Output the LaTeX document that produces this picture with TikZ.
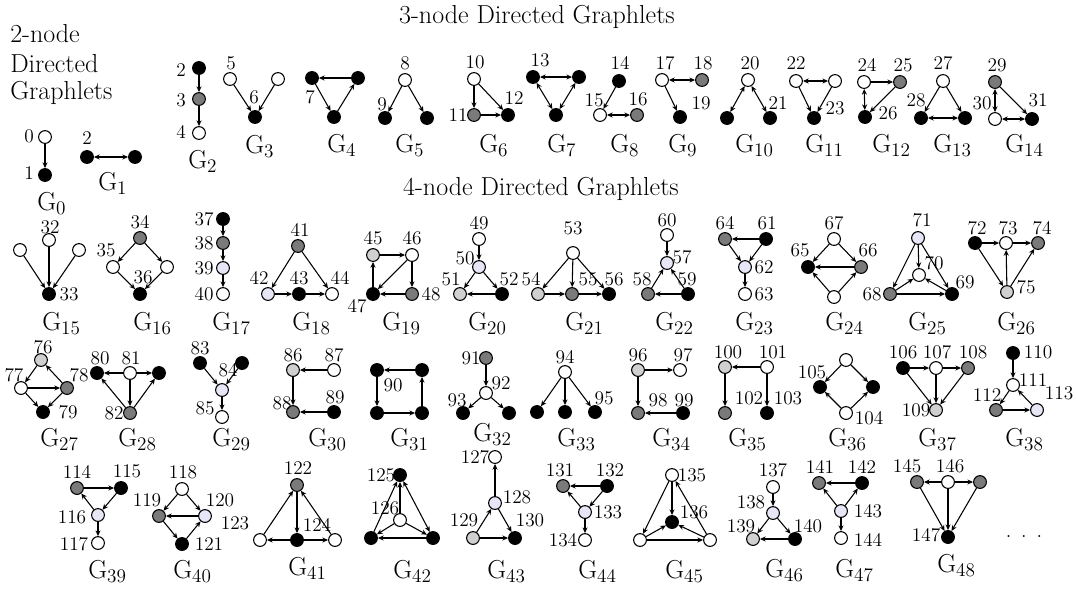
\documentclass[tikz,border=0pt]{standalone}
\usetikzlibrary{arrows.meta}
\definecolor{dgray}{HTML}{7A7A7A}
\definecolor{lgray}{HTML}{D0D0D0}
\definecolor{lav}{HTML}{E6E6F6}
\tikzset{
  vtx/.style={circle,draw=black,line width=0.8pt,minimum size=9.6pt,inner sep=0pt},
  wn/.style={vtx,fill=white},
  bn/.style={vtx,fill=black},
  dn/.style={vtx,fill=dgray},
  ln/.style={vtx,fill=lgray},
  pn/.style={vtx,fill=lav},
  ar/.style={-{Stealth[length=4.3pt,width=3.8pt]},line width=0.8pt},
  bi/.style={{Stealth[length=4.3pt,width=3.8pt]}-{Stealth[length=4.3pt,width=3.8pt]},line width=0.8pt},
  lab/.style={font=\fontsize{14.5}{14.5}\selectfont,inner sep=0pt},
  gl/.style={font=\fontsize{19.5}{19.5}\selectfont,inner sep=0pt,anchor=base west},
  ttl/.style={font=\fontsize{19.5}{19.5}\selectfont,inner sep=0pt,anchor=base}
}
\newcommand{\gname}[1]{G$_{#1}$}
\begin{document}
\begin{tikzpicture}[x=0.75pt,y=-0.75pt]
\useasboundingbox (0,0) rectangle (1077,590);
% titles
\node[ttl] (t3) at (537,23) {3-node Directed Graphlets};
\node[ttl] (t4) at (541,195) {4-node Directed Graphlets};
\node[ttl,anchor=base west] (t2a) at (10,42) {2-node};
\node[ttl,anchor=base west] (t2b) at (10,72) {Directed};
\node[ttl,anchor=base west] (t2c) at (10,99) {Graphlets};
% G0
\node[wn] (g0a) at (45,137) {};
\node[bn] (g0b) at (45,175) {};
\node[lab] (l0) at (29,136) {0};
\node[lab] (l1) at (29,173) {1};
\draw[ar] (g0a) -- (g0b);
\node[gl] (G0) at (37,210) {\gname{0}};
% G1
\node[bn] (g1a) at (87,157) {};
\node[bn] (g1b) at (135,157) {};
\node[lab] (l2a) at (87,138) {2};
\draw[bi] (g1a) -- (g1b);
\node[gl] (G1) at (98,190) {\gname{1}};
% G2
\node[bn] (g2a) at (199,68) {};
\node[dn] (g2b) at (199,99) {};
\node[wn] (g2c) at (199,133) {};
\node[lab] (l2) at (181,70) {2};
\node[lab] (l3) at (181,100) {3};
\node[lab] (l4) at (181,132) {4};
\draw[ar] (g2a) -- (g2b);
\draw[ar] (g2b) -- (g2c);
\node[gl] (G2) at (188,168) {\gname{2}};
% G3
\node[wn] (g3a) at (230,79) {};
\node[wn] (g3b) at (278,79) {};
\node[bn] (g3c) at (255,117) {};
\node[lab] (l5) at (231,63) {5};
\node[lab] (l6) at (254,97) {6};
\draw[ar] (g3a) -- (g3c);
\draw[ar] (g3b) -- (g3c);
\node[gl] (G3) at (245,153) {\gname{3}};
% G4
\node[bn] (g4a) at (312,78) {};
\node[bn] (g4b) at (358,78) {};
\node[bn] (g4c) at (334,117) {};
\node[lab] (l7) at (310,97) {7};
\draw[ar] (g4b) -- (g4a);
\draw[ar] (g4a) -- (g4c);
\draw[ar] (g4c) -- (g4b);
\node[gl] (G4) at (327,152) {\gname{4}};
% G5
\node[wn] (g5a) at (405,80) {};
\node[bn] (g5b) at (385,118) {};
\node[bn] (g5c) at (427,118) {};
\node[lab] (l8) at (405,63) {8};
\node[lab] (l9) at (382,104) {9};
\draw[ar] (g5a) -- (g5b);
\draw[ar] (g5a) -- (g5c);
\node[gl] (G5) at (395,152) {\gname{5}};
% G6
\node[wn] (g6a) at (474,79) {};
\node[dn] (g6b) at (474,115) {};
\node[bn] (g6c) at (508,115) {};
\node[lab] (l10) at (475,62) {10};
\node[lab] (l11) at (458,115) {11};
\node[lab] (l12) at (514,98) {12};
\draw[ar] (g6a) -- (g6b);
\draw[ar] (g6a) -- (g6c);
\draw[ar] (g6b) -- (g6c);
\node[gl] (G6) at (479,152) {\gname{6}};
% G7
\node[bn] (g7a) at (533,77) {};
\node[bn] (g7b) at (579,77) {};
\node[bn] (g7c) at (556,115) {};
\node[lab] (l13) at (540,60) {13};
\draw[bi] (g7a) -- (g7b);
\draw[bi] (g7a) -- (g7c);
\draw[bi] (g7b) -- (g7c);
\node[gl] (G7) at (547,152) {\gname{7}};
% G8
\node[bn] (g8a) at (619,81) {};
\node[wn] (g8b) at (600,115) {};
\node[dn] (g8c) at (637,115) {};
\node[lab] (l14) at (620,63) {14};
\node[lab] (l15) at (594,100) {15};
\node[lab] (l16) at (638,99) {16};
\draw[ar] (g8a) -- (g8b);
\draw[bi] (g8b) -- (g8c);
\node[gl] (G8) at (610,152) {\gname{8}};
% G9
\node[wn] (g9a) at (662,80) {};
\node[dn] (g9b) at (702,80) {};
\node[bn] (g9c) at (680,117) {};
\node[lab] (l17) at (665,63) {17};
\node[lab] (l18) at (703,63) {18};
\node[lab] (l19) at (701,103) {19};
\draw[bi] (g9a) -- (g9b);
\draw[ar] (g9a) -- (g9c);
\node[gl] (G9) at (668,152) {\gname{9}};
% G10
\node[wn] (g10a) at (748,80) {};
\node[bn] (g10b) at (727,118) {};
\node[bn] (g10c) at (770,118) {};
\node[lab] (l20) at (750,63) {20};
\node[lab] (l21) at (778,103) {21};
\draw[bi] (g10a) -- (g10b);
\draw[bi] (g10a) -- (g10c);
\node[gl] (G10) at (735,152) {\gname{10}};
% G11
\node[wn] (g11a) at (796,81) {};
\node[wn] (g11b) at (835,81) {};
\node[bn] (g11c) at (814,118) {};
\node[lab] (l22) at (796,63) {22};
\node[lab] (l23) at (835,108) {23};
\draw[bi] (g11a) -- (g11b);
\draw[ar] (g11a) -- (g11c);
\draw[ar] (g11b) -- (g11c);
\node[gl] (G11) at (805,152) {\gname{11}};
% G12
\node[wn] (g12a) at (864,82) {};
\node[dn] (g12b) at (900,82) {};
\node[bn] (g12c) at (865,117) {};
\node[lab] (l24) at (867,65) {24};
\node[lab] (l25) at (903,65) {25};
\node[lab] (l26) at (888,113) {26};
\draw[ar] (g12a) -- (g12b);
\draw[bi] (g12a) -- (g12c);
\draw[ar] (g12b) -- (g12c);
\node[gl] (G12) at (872,152) {\gname{12}};
% G13
\node[wn] (g13a) at (943,81) {};
\node[bn] (g13b) at (921,118) {};
\node[bn] (g13c) at (965,118) {};
\node[lab] (l27) at (943,63) {27};
\node[lab] (l28) at (916,100) {28};
\draw[ar] (g13a) -- (g13b);
\draw[ar] (g13a) -- (g13c);
\draw[bi] (g13b) -- (g13c);
\node[gl] (G13) at (933,152) {\gname{13}};
% G14
\node[dn] (g14a) at (995,82) {};
\node[wn] (g14b) at (995,119) {};
\node[bn] (g14c) at (1032,119) {};
\node[lab] (l29) at (997,65) {29};
\node[lab] (l30) at (982,103) {30};
\node[lab] (l31) at (1038,100) {31};
\draw[bi] (g14a) -- (g14b);
\draw[ar] (g14a) -- (g14c);
\draw[bi] (g14b) -- (g14c);
\node[gl] (G14) at (1005,152) {\gname{14}};
% G15
\node[wn] (g15a) at (20,250) {};
\node[wn] (g15b) at (49,240) {};
\node[wn] (g15c) at (79,250) {};
\node[bn] (g15d) at (49,294) {};
\node[lab] (l32) at (50,227) {32};
\node[lab] (l33) at (69,294) {33};
\draw[ar] (g15a) -- (g15d);
\draw[ar] (g15b) -- (g15d);
\draw[ar] (g15c) -- (g15d);
\node[gl] (G15) at (42,330) {\gname{15}};
% G16
\node[dn] (g16a) at (140,238) {};
\node[wn] (g16b) at (113,267) {};
\node[wn] (g16c) at (167,267) {};
\node[bn] (g16d) at (140,294) {};
\node[lab] (l34) at (140,222) {34};
\node[lab] (l35) at (106,250) {35};
\node[lab] (l36) at (143,277) {36};
\draw[ar] (g16a) -- (g16b);
\draw[ar] (g16a) -- (g16c);
\draw[ar] (g16b) -- (g16d);
\draw[ar] (g16c) -- (g16d);
\node[gl] (G16) at (133,330) {\gname{16}};
% G17
\node[bn] (g17a) at (223,219) {};
\node[dn] (g17b) at (223,243) {};
\node[pn] (g17c) at (223,268) {};
\node[wn] (g17d) at (223,294) {};
\node[lab] (l37) at (204,219) {37};
\node[lab] (l38) at (204,243) {38};
\node[lab] (l39) at (204,268) {39};
\node[lab] (l40) at (204,294) {40};
\draw[ar] (g17a) -- (g17b);
\draw[ar] (g17b) -- (g17c);
\draw[ar] (g17c) -- (g17d);
\node[gl] (G17) at (212,330) {\gname{17}};
% G18
\node[dn] (g18a) at (298,246) {};
\node[pn] (g18b) at (268,294) {};
\node[bn] (g18c) at (299,294) {};
\node[wn] (g18d) at (332,294) {};
\node[lab] (l41) at (300,230) {41};
\node[lab] (l42) at (259,278) {42};
\node[lab] (l43) at (299,278) {43};
\node[lab] (l44) at (340,278) {44};
\draw[ar] (g18a) -- (g18b);
\draw[ar] (g18a) -- (g18d);
\draw[ar] (g18b) -- (g18c);
\draw[ar] (g18c) -- (g18d);
\node[gl] (G18) at (292,330) {\gname{18}};
% G19
\node[ln] (g19a) at (373,255) {};
\node[wn] (g19b) at (412,255) {};
\node[bn] (g19c) at (373,294) {};
\node[dn] (g19d) at (412,294) {};
\node[lab] (l45) at (373,238) {45};
\node[lab] (l46) at (412,238) {46};
\node[lab] (l47) at (357,306) {47};
\node[lab] (l48) at (431,294) {48};
\draw[ar] (g19c) -- (g19a);
\draw[ar] (g19a) -- (g19b);
\draw[ar] (g19b) -- (g19c);
\draw[ar] (g19b) -- (g19d);
\draw[ar] (g19d) -- (g19c);
\node[gl] (G19) at (382,330) {\gname{19}};
% G20
\node[wn] (g20a) at (479,239) {};
\node[pn] (g20b) at (479,267) {};
\node[ln] (g20c) at (460,294) {};
\node[bn] (g20d) at (502,294) {};
\node[lab] (l49) at (479,223) {49};
\node[lab] (l50) at (465,258) {50};
\node[lab] (l51) at (451,279) {51};
\node[lab] (l52) at (509,279) {52};
\draw[ar] (g20a) -- (g20b);
\draw[ar] (g20b) -- (g20c);
\draw[ar] (g20b) -- (g20d);
\draw[ar] (g20d) -- (g20c);
\node[gl] (G20) at (468,330) {\gname{20}};
% G21
\node[wn] (g21a) at (573,253) {};
\node[ln] (g21b) at (538,294) {};
\node[dn] (g21c) at (572,294) {};
\node[bn] (g21d) at (609,294) {};
\node[lab] (l53) at (573,228) {53};
\node[lab] (l54) at (531,279) {54};
\node[lab] (l55) at (588,279) {55};
\node[lab] (l56) at (614,279) {56};
\draw[ar] (g21a) -- (g21b);
\draw[ar] (g21a) -- (g21c);
\draw[ar] (g21a) -- (g21d);
\draw[ar] (g21b) -- (g21c);
\draw[ar] (g21c) -- (g21d);
\node[gl] (G21) at (565,330) {\gname{21}};
% G22
\node[wn] (g22a) at (667,235) {};
\node[pn] (g22b) at (667,263) {};
\node[dn] (g22c) at (648,294) {};
\node[bn] (g22d) at (688,294) {};
\node[lab] (l60) at (667,220) {60};
\node[lab] (l57) at (682,257) {57};
\node[lab] (l58) at (642,279) {58};
\node[lab] (l59) at (687,279) {59};
\draw[ar] (g22a) -- (g22b);
\draw[ar] (g22c) -- (g22b);
\draw[ar] (g22d) -- (g22b);
\draw[ar] (g22d) -- (g22c);
\node[gl] (G22) at (655,330) {\gname{22}};
% G23
\node[dn] (g23a) at (725,239) {};
\node[bn] (g23b) at (766,239) {};
\node[pn] (g23c) at (745,267) {};
\node[wn] (g23d) at (745,294) {};
\node[lab] (l64) at (725,223) {64};
\node[lab] (l61) at (767,223) {61};
\node[lab] (l62) at (764,267) {62};
\node[lab] (l63) at (764,294) {63};
\draw[ar] (g23b) -- (g23a);
\draw[ar] (g23a) -- (g23c);
\draw[ar] (g23b) -- (g23c);
\draw[ar] (g23c) -- (g23d);
\node[gl] (G23) at (735,330) {\gname{23}};
% G24
\node[wn] (g24a) at (834,239) {};
\node[bn] (g24b) at (808,267) {};
\node[dn] (g24c) at (861,267) {};
\node[wn] (g24d) at (834,297) {};
\node[lab] (l67) at (834,223) {67};
\node[lab] (l65) at (800,250) {65};
\node[lab] (l66) at (868,250) {66};
\draw[ar] (g24a) -- (g24b);
\draw[ar] (g24a) -- (g24c);
\draw[ar] (g24c) -- (g24b);
\draw[ar] (g24d) -- (g24b);
\draw[ar] (g24d) -- (g24c);
\node[gl] (G24) at (825,330) {\gname{24}};
% G25
\node[pn] (g25a) at (918,238) {};
\node[wn] (g25b) at (919,275) {};
\node[dn] (g25c) at (890,294) {};
\node[bn] (g25d) at (952,294) {};
\node[lab] (l71) at (922,220) {71};
\node[lab] (l70) at (934,263) {70};
\node[lab] (l69) at (965,282) {69};
\node[lab] (l68) at (872,294) {68};
\draw[ar] (g25a) -- (g25b);
\draw[ar] (g25a) -- (g25c);
\draw[ar] (g25a) -- (g25d);
\draw[ar] (g25c) -- (g25b);
\draw[ar] (g25d) -- (g25b);
\draw[ar] (g25c) -- (g25d);
\node[gl] (G25) at (908,330) {\gname{25}};
% G26
\node[bn] (g26a) at (975,243) {};
\node[wn] (g26b) at (1006,243) {};
\node[dn] (g26c) at (1038,243) {};
\node[ln] (g26d) at (1007,292) {};
\node[lab] (l72) at (977,228) {72};
\node[lab] (l73) at (1008,228) {73};
\node[lab] (l74) at (1042,228) {74};
\node[lab] (l75) at (1026,287) {75};
\draw[ar] (g26a) -- (g26b);
\draw[ar] (g26b) -- (g26c);
\draw[ar] (g26a) -- (g26d);
\draw[ar] (g26d) -- (g26b);
\draw[ar] (g26d) -- (g26c);
\node[gl] (G26) at (997,330) {\gname{26}};
% G27
\node[ln] (g27a) at (41,360) {};
\node[wn] (g27b) at (21,388) {};
\node[dn] (g27c) at (67,388) {};
\node[bn] (g27d) at (43,412) {};
\node[lab] (l76) at (43,347) {76};
\node[lab] (l77) at (14,375) {77};
\node[lab] (l78) at (79,375) {78};
\node[lab] (l79) at (68,412) {79};
\draw[ar] (g27a) -- (g27b);
\draw[ar] (g27c) -- (g27a);
\draw[ar] (g27b) -- (g27c);
\draw[ar] (g27b) -- (g27d);
\draw[ar] (g27c) -- (g27d);
\node[gl] (G27) at (40,446) {\gname{27}};
% G28
\node[bn] (g28a) at (97,373) {};
\node[wn] (g28b) at (130,373) {};
\node[bn] (g28c) at (159,373) {};
\node[dn] (g28d) at (130,413) {};
\node[lab] (l80) at (100,358) {80};
\node[lab] (l81) at (131,358) {81};
\node[lab] (l82) at (114,413) {82};
\draw[ar] (g28b) -- (g28a);
\draw[ar] (g28b) -- (g28c);
\draw[ar] (g28b) -- (g28d);
\draw[ar] (g28d) -- (g28a);
\draw[ar] (g28d) -- (g28c);
\node[gl] (G28) at (118,446) {\gname{28}};
% G29
\node[bn] (g29a) at (200,363) {};
\node[bn] (g29b) at (242,363) {};
\node[pn] (g29c) at (222,390) {};
\node[wn] (g29d) at (222,417) {};
\node[lab] (l83) at (200,348) {83};
\node[lab] (l84) at (228,370) {84};
\node[lab] (l85) at (205,408) {85};
\draw[ar] (g29a) -- (g29c);
\draw[ar] (g29b) -- (g29c);
\draw[ar] (g29c) -- (g29d);
\node[gl] (G29) at (212,446) {\gname{29}};
% G30
\node[ln] (g30a) at (293,370) {};
\node[wn] (g30b) at (334,370) {};
\node[dn] (g30c) at (293,412) {};
\node[bn] (g30d) at (334,412) {};
\node[lab] (l86) at (293,355) {86};
\node[lab] (l87) at (334,355) {87};
\node[lab] (l88) at (282,403) {88};
\node[lab] (l89) at (335,397) {89};
\draw[ar] (g30b) -- (g30a);
\draw[ar] (g30a) -- (g30c);
\draw[ar] (g30d) -- (g30c);
\node[gl] (G30) at (308,446) {\gname{30}};
% G31
\node[bn] (g31a) at (377,370) {};
\node[bn] (g31b) at (422,370) {};
\node[bn] (g31c) at (377,413) {};
\node[bn] (g31d) at (422,413) {};
\node[lab] (l90) at (393,385) {90};
\draw[ar] (g31b) -- (g31a);
\draw[ar] (g31a) -- (g31c);
\draw[ar] (g31c) -- (g31d);
\draw[ar] (g31d) -- (g31b);
\node[gl] (G31) at (390,446) {\gname{31}};
% G32
\node[dn] (g32a) at (486,358) {};
\node[wn] (g32b) at (486,393) {};
\node[bn] (g32c) at (463,413) {};
\node[bn] (g32d) at (509,413) {};
\node[lab] (l91) at (471,358) {91};
\node[lab] (l92) at (501,383) {92};
\node[lab] (l93) at (457,400) {93};
\draw[ar] (g32a) -- (g32b);
\draw[ar] (g32b) -- (g32c);
\draw[ar] (g32b) -- (g32d);
\node[gl] (G32) at (473,441) {\gname{32}};
% G33
\node[wn] (g33a) at (565,372) {};
\node[bn] (g33b) at (537,412) {};
\node[bn] (g33c) at (565,412) {};
\node[bn] (g33d) at (595,412) {};
\node[lab] (l94) at (565,357) {94};
\node[lab] (l95) at (604,398) {95};
\draw[ar] (g33a) -- (g33b);
\draw[ar] (g33a) -- (g33c);
\draw[ar] (g33a) -- (g33d);
\node[gl] (G33) at (557,446) {\gname{33}};
% G34
\node[ln] (g34a) at (638,370) {};
\node[wn] (g34b) at (680,370) {};
\node[dn] (g34c) at (638,413) {};
\node[bn] (g34d) at (683,413) {};
\node[lab] (l96) at (638,355) {96};
\node[lab] (l97) at (683,355) {97};
\node[lab] (l98) at (658,400) {98};
\node[lab] (l99) at (684,400) {99};
\draw[ar] (g34a) -- (g34b);
\draw[ar] (g34a) -- (g34c);
\draw[ar] (g34d) -- (g34c);
\node[gl] (G34) at (652,446) {\gname{34}};
% G35
\node[ln] (g35a) at (725,367) {};
\node[wn] (g35b) at (767,367) {};
\node[dn] (g35c) at (725,413) {};
\node[bn] (g35d) at (767,413) {};
\node[lab] (l100) at (728,352) {100};
\node[lab] (l101) at (773,352) {101};
\node[lab] (l102) at (749,398) {102};
\node[lab] (l103) at (788,398) {103};
\draw[ar] (g35b) -- (g35a);
\draw[ar] (g35a) -- (g35c);
\draw[ar] (g35b) -- (g35d);
\node[gl] (G35) at (728,446) {\gname{35}};
% G36
\node[wn] (g36a) at (846,360) {};
\node[bn] (g36b) at (820,387) {};
\node[bn] (g36c) at (873,387) {};
\node[wn] (g36d) at (846,413) {};
\node[lab] (l105) at (812,372) {105};
\node[lab] (l104) at (869,418) {104};
\draw[ar] (g36a) -- (g36b);
\draw[ar] (g36a) -- (g36c);
\draw[ar] (g36d) -- (g36b);
\draw[ar] (g36d) -- (g36c);
\node[gl] (G36) at (828,446) {\gname{36}};
% G37
\node[bn] (g37a) at (903,368) {};
\node[wn] (g37b) at (936,368) {};
\node[dn] (g37c) at (968,368) {};
\node[ln] (g37d) at (936,410) {};
\node[lab] (l106) at (903,352) {106};
\node[lab] (l107) at (937,352) {107};
\node[lab] (l108) at (973,352) {108};
\node[lab] (l109) at (916,410) {109};
\draw[ar] (g37a) -- (g37b);
\draw[ar] (g37b) -- (g37c);
\draw[ar] (g37a) -- (g37d);
\draw[ar] (g37b) -- (g37d);
\draw[ar] (g37c) -- (g37d);
\node[gl] (G37) at (918,446) {\gname{37}};
% G38
\node[bn] (g38a) at (1013,353) {};
\node[wn] (g38b) at (1013,385) {};
\node[dn] (g38c) at (996,410) {};
\node[pn] (g38d) at (1037,410) {};
\node[lab] (l110) at (1038,352) {110};
\node[lab] (l111) at (1033,380) {111};
\node[lab] (l112) at (987,395) {112};
\node[lab] (l113) at (1059,393) {113};
\draw[ar] (g38a) -- (g38b);
\draw[ar] (g38b) -- (g38c);
\draw[ar] (g38c) -- (g38d);
\draw[ar] (g38d) -- (g38b);
\node[gl] (G38) at (1005,446) {\gname{38}};
% G39
\node[dn] (g39a) at (77,488) {};
\node[bn] (g39b) at (121,488) {};
\node[pn] (g39c) at (98,515) {};
\node[wn] (g39d) at (98,543) {};
\node[lab] (l114) at (77,472) {114};
\node[lab] (l115) at (127,471) {115};
\node[lab] (l116) at (72,517) {116};
\node[lab] (l117) at (74,544) {117};
\draw[ar] (g39a) -- (g39b);
\draw[ar] (g39b) -- (g39c);
\draw[ar] (g39c) -- (g39a);
\draw[ar] (g39c) -- (g39d);
\node[gl] (G39) at (88,578) {\gname{39}};
% G40
\node[wn] (g40a) at (182,489) {};
\node[dn] (g40b) at (159,516) {};
\node[pn] (g40c) at (205,516) {};
\node[bn] (g40d) at (182,544) {};
\node[lab] (l118) at (183,472) {118};
\node[lab] (l119) at (147,500) {119};
\node[lab] (l120) at (220,500) {120};
\node[lab] (l123) at (235,523) {123};
\node[lab] (l121) at (209,544) {121};
\draw[ar] (g40a) -- (g40b);
\draw[ar] (g40a) -- (g40c);
\draw[ar] (g40c) -- (g40b);
\draw[ar] (g40b) -- (g40d);
\draw[ar] (g40d) -- (g40c);
\node[gl] (G40) at (173,578) {\gname{40}};
% G41
\node[dn] (g41a) at (297,485) {};
\node[wn] (g41b) at (260,540) {};
\node[bn] (g41c) at (297,540) {};
\node[wn] (g41d) at (335,540) {};
\node[lab] (l122) at (298,468) {122};
\node[lab] (l124) at (317,525) {124};
\draw[ar] (g41b) -- (g41a);
\draw[ar] (g41a) -- (g41c);
\draw[ar] (g41d) -- (g41a);
\draw[ar] (g41c) -- (g41b);
\draw[ar] (g41c) -- (g41d);
\node[gl] (G41) at (288,575) {\gname{41}};
% G42
\node[bn] (g42a) at (400,475) {};
\node[wn] (g42b) at (400,520) {};
\node[bn] (g42c) at (371,538) {};
\node[bn] (g42d) at (433,538) {};
\node[lab] (l125) at (381,475) {125};
\node[lab] (l126) at (385,508) {126};
\draw[ar] (g42c) -- (g42a);
\draw[ar] (g42b) -- (g42a);
\draw[bi] (g42a) -- (g42d);
\draw[ar] (g42d) -- (g42c);
\draw[ar] (g42b) -- (g42c);
\draw[ar] (g42b) -- (g42d);
\node[gl] (G42) at (393,578) {\gname{42}};
% G43
\node[wn] (g43a) at (495,457) {};
\node[pn] (g43b) at (495,503) {};
\node[ln] (g43c) at (473,538) {};
\node[bn] (g43d) at (515,538) {};
\node[lab] (l127) at (475,457) {127};
\node[lab] (l128) at (517,497) {128};
\node[lab] (l129) at (464,520) {129};
\node[lab] (l130) at (530,520) {130};
\draw[ar] (g43b) -- (g43a);
\draw[ar] (g43c) -- (g43b);
\draw[ar] (g43b) -- (g43d);
\draw[ar] (g43c) -- (g43d);
\node[gl] (G43) at (487,578) {\gname{43}};
% G44
\node[dn] (g44a) at (563,486) {};
\node[bn] (g44b) at (607,486) {};
\node[pn] (g44c) at (585,512) {};
\node[wn] (g44d) at (585,540) {};
\node[lab] (l131) at (560,470) {131};
\node[lab] (l132) at (610,470) {132};
\node[lab] (l133) at (608,512) {133};
\node[lab] (l134) at (563,540) {134};
\draw[ar] (g44b) -- (g44a);
\draw[ar] (g44b) -- (g44c);
\draw[ar] (g44c) -- (g44a);
\draw[ar] (g44c) -- (g44d);
\node[gl] (G44) at (578,578) {\gname{44}};
% G45
\node[wn] (g45a) at (672,475) {};
\node[bn] (g45b) at (672,522) {};
\node[wn] (g45c) at (640,540) {};
\node[wn] (g45d) at (710,540) {};
\node[lab] (l135) at (692,475) {135};
\node[lab] (l136) at (694,512) {136};
\draw[ar] (g45a) -- (g45c);
\draw[ar] (g45a) -- (g45b);
\draw[ar] (g45d) -- (g45a);
\draw[ar] (g45c) -- (g45b);
\draw[ar] (g45d) -- (g45b);
\draw[ar] (g45c) -- (g45d);
\node[gl] (G45) at (665,578) {\gname{45}};
% G46
\node[wn] (g46a) at (773,487) {};
\node[pn] (g46b) at (773,513) {};
\node[ln] (g46c) at (753,539) {};
\node[bn] (g46d) at (795,539) {};
\node[lab] (l137) at (773,470) {137};
\node[lab] (l138) at (751,502) {138};
\node[lab] (l139) at (741,526) {139};
\node[lab] (l140) at (808,526) {140};
\draw[ar] (g46a) -- (g46b);
\draw[ar] (g46b) -- (g46c);
\draw[ar] (g46b) -- (g46d);
\draw[ar] (g46d) -- (g46c);
\node[gl] (G46) at (765,577) {\gname{46}};
% G47
\node[dn] (g47a) at (819,483) {};
\node[bn] (g47b) at (862,483) {};
\node[pn] (g47c) at (841,511) {};
\node[wn] (g47d) at (841,538) {};
\node[lab] (l141) at (820,467) {141};
\node[lab] (l142) at (862,467) {142};
\node[lab] (l143) at (868,511) {143};
\node[lab] (l144) at (868,540) {144};
\draw[ar] (g47b) -- (g47a);
\draw[ar] (g47c) -- (g47a);
\draw[ar] (g47c) -- (g47b);
\draw[ar] (g47c) -- (g47d);
\node[gl] (G47) at (835,577) {\gname{47}};
% G48
\node[dn] (g48a) at (917,482) {};
\node[wn] (g48b) at (948,482) {};
\node[dn] (g48c) at (980,482) {};
\node[bn] (g48d) at (948,537) {};
\node[lab] (l145) at (907,466) {145};
\node[lab] (l146) at (950,466) {146};
\node[lab] (l147) at (926,535) {147};
\draw[ar] (g48b) -- (g48a);
\draw[ar] (g48b) -- (g48c);
\draw[ar] (g48a) -- (g48d);
\draw[ar] (g48b) -- (g48d);
\draw[ar] (g48c) -- (g48d);
\node[gl] (G48) at (937,572) {\gname{48}};
\node[font=\fontsize{18}{18}\selectfont,inner sep=0pt,anchor=base] (dots) at (1024,537) {.\hspace{7pt}.\hspace{7pt}.};
\end{tikzpicture}
\end{document}
